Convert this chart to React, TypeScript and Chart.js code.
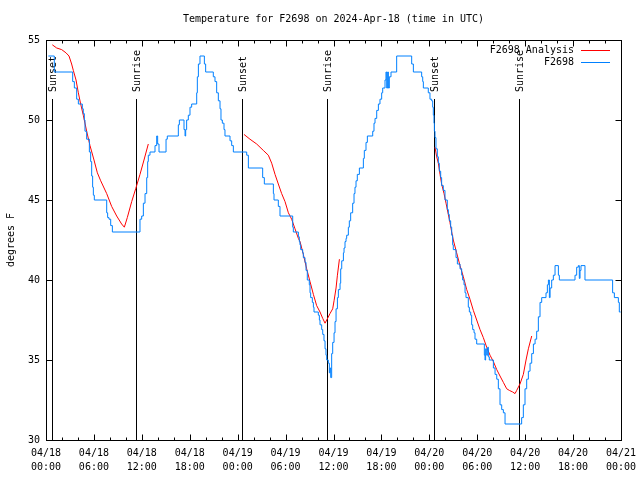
import React, { useEffect, useRef } from 'react';
import { Chart, registerables } from 'chart.js';

Chart.register(...registerables);

const FONT = '"DejaVu Sans Mono", monospace';

const chartTitle = 'Temperature for F2698 on 2024-Apr-18 (time in UTC)';
const yAxisTitle = 'degrees F';
const seriesLabels = ['F2698 Analysis', 'F2698'];
const seriesColors = ['#ff0000', '#0080ff'];

const xTickDates = ['04/18', '04/18', '04/18', '04/18', '04/19', '04/19', '04/19', '04/19', '04/20', '04/20', '04/20', '04/20', '04/21'];
const xTickTimes = ['00:00', '06:00', '12:00', '18:00', '00:00', '06:00', '12:00', '18:00', '00:00', '06:00', '12:00', '18:00', '00:00'];
const yTickValues = [30, 35, 40, 45, 50, 55];
const yTickLabels = ['30', '35', '40', '45', '50', '55'];

// hours since 04/18 00:00 UTC
const sunEventHours = [0.72, 11.3, 24.59, 35.23, 48.62, 59.27];
const sunEventLabels = ['Sunset', 'Sunrise', 'Sunset', 'Sunrise', 'Sunset', 'Sunrise'];

// station observations [hour, degF]
const stationObs: [number, number][] = [
  [0.29, 54.0], [1.04, 53.0], [3.34, 52.4], [3.55, 52.0], [3.84, 51.3], [4.05, 51.0], [4.55, 50.7], [4.67, 50.4],
  [4.80, 50.0], [4.88, 49.3], [5.09, 48.8], [5.43, 48.0], [5.59, 47.4], [5.72, 46.5], [5.84, 45.8], [5.93, 45.3],
  [6.05, 45.0], [7.60, 44.2], [7.72, 43.9], [7.89, 43.8], [8.10, 43.4], [8.31, 43.0], [11.77, 43.8], [11.98, 44.0],
  [12.19, 44.8], [12.40, 45.4], [12.61, 46.4], [12.73, 47.4], [12.81, 47.8], [13.02, 48.0], [13.65, 48.4], [13.86, 49.0],
  [13.98, 48.5], [14.15, 48.0], [15.03, 48.8], [15.19, 49.0], [16.57, 49.7], [16.70, 50.0], [17.28, 49.4], [17.41, 49.0],
  [17.49, 49.4], [17.61, 50.0], [17.82, 50.3], [18.03, 50.8], [18.24, 51.0], [18.87, 51.7], [18.95, 52.7], [19.08, 53.5],
  [19.28, 54.0], [19.83, 53.5], [19.99, 53.0], [20.95, 52.7], [21.16, 52.4], [21.37, 51.7], [21.58, 51.2], [21.79, 50.7],
  [21.91, 50.0], [22.08, 49.8], [22.29, 49.4], [22.41, 49.0], [23.04, 48.7], [23.25, 48.4], [23.46, 48.0],
  [25.13, 47.8], [25.34, 47.0], [27.13, 46.4], [27.34, 46.0], [28.47, 45.4], [28.55, 45.0], [29.09, 44.6], [29.30, 44.0],
  [30.89, 43.3], [30.97, 43.0], [31.60, 42.7], [31.72, 42.4], [31.80, 42.2], [31.89, 41.9], [32.14, 41.7], [32.22, 41.4],
  [32.43, 41.1], [32.56, 40.6], [32.72, 40.0], [32.97, 39.7], [33.06, 39.2], [33.14, 38.9], [33.35, 38.6], [33.48, 38.3],
  [33.56, 38.0], [34.10, 37.8], [34.23, 37.5], [34.31, 37.2], [34.52, 36.9], [34.65, 36.6], [34.81, 36.2], [34.94, 35.7],
  [35.06, 35.3], [35.15, 35.0], [35.35, 34.8], [35.48, 34.2], [35.56, 34.5], [35.65, 33.9], [35.77, 35.4], [35.90, 36.1],
  [36.07, 36.7], [36.19, 37.4], [36.32, 38.2], [36.49, 38.9], [36.61, 39.4], [36.82, 39.8], [36.90, 40.7], [37.03, 41.2],
  [37.24, 41.7], [37.32, 42.0], [37.44, 42.4], [37.57, 42.6], [37.65, 42.8], [37.86, 43.3], [37.98, 43.7], [38.15, 44.2],
  [38.40, 44.8], [38.57, 45.4], [38.69, 45.8], [38.82, 46.2], [38.98, 46.6], [39.24, 47.0], [39.74, 47.6], [39.86, 48.1],
  [40.07, 48.6], [40.24, 49.0], [40.91, 49.3], [41.07, 49.8], [41.20, 50.1], [41.41, 50.6], [41.62, 51.0], [41.82, 51.3],
  [42.03, 51.7], [42.16, 52.0], [42.45, 52.5], [42.57, 53.0], [42.66, 52.0], [42.78, 53.0], [42.87, 52.0], [42.99, 52.7],
  [43.20, 53.0], [43.91, 54.0], [45.79, 53.5], [46.00, 53.0], [47.04, 52.7], [47.17, 52.4], [47.25, 52.0], [47.87, 51.7],
  [48.08, 51.3], [48.29, 51.2], [48.42, 50.8], [48.50, 50.3], [48.58, 49.8], [48.63, 49.3], [48.71, 48.9], [48.83, 48.2],
  [49.00, 47.7], [49.13, 47.3], [49.25, 46.8], [49.42, 46.4], [49.54, 45.9], [49.75, 45.6], [49.96, 45.0], [50.25, 44.4],
  [50.38, 44.1], [50.50, 43.7], [50.67, 43.3], [50.80, 42.8], [50.92, 42.2], [51.00, 41.9], [51.34, 41.4], [51.51, 41.0],
  [51.84, 40.7], [52.05, 40.3], [52.17, 40.0], [52.34, 39.7], [52.47, 39.2], [52.59, 38.9], [52.88, 38.3], [53.01, 38.0],
  [53.18, 37.8], [53.30, 37.2], [53.43, 36.9], [53.60, 36.7], [53.72, 36.3], [53.93, 36.0], [54.89, 35.3], [54.97, 35.0],
  [55.05, 35.7], [55.18, 35.3], [55.31, 35.8], [55.39, 35.2], [55.51, 35.0], [56.02, 34.5], [56.23, 34.1], [56.44, 33.8],
  [56.64, 33.2], [56.85, 32.2], [57.06, 31.9], [57.27, 31.7], [57.48, 31.0], [59.56, 31.4], [59.77, 32.2], [59.98, 33.2],
  [60.19, 33.8], [60.40, 34.3], [60.61, 34.8], [60.82, 35.4], [61.03, 36.0], [61.24, 36.3], [61.44, 36.8], [61.65, 37.7],
  [61.86, 38.6], [62.07, 38.9], [62.61, 39.2], [62.78, 39.7], [62.91, 40.0], [63.03, 38.9], [63.12, 39.5], [63.32, 40.0],
  [63.53, 40.3], [63.74, 40.9], [64.16, 40.3], [64.28, 40.0], [66.24, 40.3], [66.45, 40.8], [66.66, 40.9], [66.78, 40.1],
  [66.87, 40.6], [66.99, 40.9], [67.49, 40.0], [70.95, 39.2], [71.17, 38.9], [71.67, 38.6], [71.79, 38.0], [71.95, 38.0],
];

// analysis values [hour, degF]; null separates the three nightly runs
const analysisObs: [number, number | null][] = [
  [0.79, 54.7], [1.34, 54.5], [1.96, 54.4], [2.5, 54.2], [2.88, 54.0], [3.21, 53.5], [3.42, 53.1], [3.76, 52.5],
  [4.05, 51.7], [4.34, 51.0], [4.67, 50.3], [5.09, 49.3], [5.51, 48.4], [6.01, 47.5], [6.43, 46.7], [6.85, 46.2],
  [7.6, 45.4], [8.22, 44.6], [8.85, 44.0], [9.47, 43.5], [9.81, 43.3], [10.18, 43.9], [10.73, 44.9], [11.23, 45.7],
  [11.77, 46.6], [12.27, 47.5], [12.81, 48.5], [13.0, null],
  [24.79, 49.1], [25.54, 48.8], [26.38, 48.5], [27.21, 48.1], [27.84, 47.8], [28.26, 47.3], [28.68, 46.6], [29.09, 46.0],
  [29.51, 45.4], [29.93, 44.9], [30.35, 44.2], [30.76, 43.8], [31.18, 43.2], [31.6, 42.6], [31.81, 42.4], [32.22, 41.6],
  [32.64, 40.7], [33.06, 39.9], [33.48, 39.1], [33.89, 38.4], [34.31, 38.0], [34.65, 37.6], [34.94, 37.3], [35.15, 37.5],
  [35.56, 37.9], [35.9, 38.2], [36.07, 38.7], [36.32, 39.5], [36.49, 40.3], [36.74, 41.3], [37.0, null],
  [48.71, 48.3], [48.92, 47.7], [49.13, 47.3], [49.34, 46.6], [49.54, 46.0], [49.84, 45.4], [50.09, 44.8], [50.38, 44.1],
  [50.58, 43.6], [50.8, 43.0], [51.0, 42.5], [51.42, 41.7], [51.84, 40.9], [52.26, 40.2], [52.68, 39.4], [53.09, 38.8],
  [53.51, 38.1], [53.93, 37.5], [54.35, 36.9], [54.76, 36.4], [55.18, 35.8], [55.6, 35.3], [56.02, 34.9], [56.44, 34.4],
  [56.85, 34.0], [57.27, 33.6], [57.69, 33.2], [58.02, 33.1], [58.44, 33.0], [58.73, 32.9], [58.94, 33.1], [59.35, 33.5],
  [59.77, 34.1], [60.11, 35.0], [60.4, 35.7], [60.82, 36.5],
];

const crisp = (v: number) => Math.round(v) + 0.5;

const decorPlugin = {
  id: 'gnuplotDecor',
  beforeDatasetsDraw(chart: any) {
    const { ctx, chartArea: a, scales } = chart;
    const x = scales.x;
    ctx.save();
    ctx.strokeStyle = '#000';
    ctx.lineWidth = 1;
    ctx.fillStyle = '#000';
    ctx.font = `10px ${FONT}`;
    sunEventHours.forEach((h, i) => {
      const px = crisp(x.getPixelForValue(h));
      ctx.beginPath();
      ctx.moveTo(px, a.top + 59);
      ctx.lineTo(px, a.bottom);
      ctx.stroke();
      ctx.save();
      ctx.translate(px + 0.5, a.top + 52);
      ctx.rotate(-Math.PI / 2);
      ctx.textAlign = 'left';
      ctx.textBaseline = 'middle';
      ctx.fillText(sunEventLabels[i], 0, 0);
      ctx.restore();
    });
    ctx.restore();
  },
  afterDraw(chart: any) {
    const { ctx, chartArea: a, scales } = chart;
    const x = scales.x;
    const y = scales.y;
    ctx.save();
    ctx.strokeStyle = '#000';
    ctx.lineWidth = 1;
    const L = crisp(a.left), R = crisp(a.right), T = crisp(a.top), B = crisp(a.bottom);
    ctx.beginPath();
    // x ticks: major every 6 h, minor every 2 h
    for (let h = 0; h <= 72; h += 2) {
      const px = crisp(x.getPixelForValue(h));
      const len = h % 6 === 0 ? 6 : 3;
      ctx.moveTo(px, B); ctx.lineTo(px, B - len);
      ctx.moveTo(px, T); ctx.lineTo(px, T + len);
    }
    yTickValues.forEach((v) => {
      const py = crisp(y.getPixelForValue(v));
      ctx.moveTo(L, py); ctx.lineTo(L + 6, py);
      ctx.moveTo(R, py); ctx.lineTo(R - 6, py);
    });
    ctx.stroke();
    ctx.strokeRect(L, T, R - L, B - T);

    // title
    ctx.fillStyle = '#000';
    ctx.font = `10px ${FONT}`;
    ctx.textAlign = 'center';
    ctx.textBaseline = 'middle';
    ctx.fillText(chartTitle, (a.left + a.right) / 2, 19);

    // legend (gnuplot style: text, then line sample)
    ctx.textAlign = 'right';
    seriesLabels.forEach((lab, i) => {
      const ly = a.top + 10 + i * 12;
      ctx.fillStyle = '#000';
      ctx.fillText(lab, a.right - 47, ly);
      ctx.strokeStyle = seriesColors[i];
      ctx.beginPath();
      ctx.moveTo(a.right - 40, crisp(ly));
      ctx.lineTo(a.right - 11, crisp(ly));
      ctx.stroke();
    });
    ctx.restore();
  },
};

export default function App() {
  const ref = useRef<HTMLCanvasElement>(null);

  useEffect(() => {
    const canvas = ref.current;
    if (!canvas) return;
    const chart = new Chart(canvas, {
      type: 'line',
      data: {
        datasets: [
          {
            label: seriesLabels[0],
            data: analysisObs.map(([h, t]) => ({ x: h, y: t })),
            borderColor: seriesColors[0],
            backgroundColor: seriesColors[0],
            borderWidth: 1,
            pointRadius: 0,
            tension: 0,
            spanGaps: false,
            order: 2,
          },
          {
            label: seriesLabels[1],
            data: stationObs.map(([h, t]) => ({ x: h, y: t })),
            borderColor: seriesColors[1],
            backgroundColor: seriesColors[1],
            borderWidth: 1,
            pointRadius: 0,
            stepped: true,
            order: 1,
          },
        ],
      } as any,
      options: {
        animation: false,
        responsive: false,
        devicePixelRatio: 1,
        layout: { padding: { top: 40, right: 19, left: 0, bottom: 0 } },
        plugins: {
          legend: { display: false },
          title: { display: false },
          tooltip: { enabled: false },
        },
        scales: {
          x: {
            type: 'linear',
            min: 0,
            max: 72,
            grid: { display: false, drawTicks: false },
            border: { display: false },
            ticks: {
              stepSize: 6,
              autoSkip: false,
              maxRotation: 0,
              padding: 7,
              color: '#000',
              font: { family: FONT, size: 10, lineHeight: 1.35 },
              callback: (v: any) => {
                const i = Math.round(Number(v) / 6);
                return [xTickDates[i], xTickTimes[i]];
              },
            },
            afterFit: (s: any) => { s.height = 40; s.paddingLeft = 0; s.paddingRight = 0; },
          },
          y: {
            type: 'linear',
            min: 30,
            max: 55,
            grid: { display: false, drawTicks: false },
            border: { display: false },
            ticks: {
              stepSize: 5,
              padding: 6,
              color: '#000',
              font: { family: FONT, size: 10 },
              callback: (v: any) => {
                const i = yTickValues.indexOf(Number(v));
                return i >= 0 ? yTickLabels[i] : '';
              },
            },
            title: {
              display: true,
              text: yAxisTitle,
              color: '#000',
              font: { family: FONT, size: 10 },
              padding: { top: 5, bottom: 0 },
            },
            afterFit: (s: any) => { s.width = 46; s.paddingTop = 0; s.paddingBottom = 0; },
          },
        },
      } as any,
      plugins: [decorPlugin],
    });
    return () => chart.destroy();
  }, []);

  return (
    <div style={{ position: 'absolute', left: 0, top: 0, width: 640, height: 480, background: '#fff' }}>
      <canvas ref={ref} width={640} height={480} style={{ display: 'block' }} />
    </div>
  );
}
